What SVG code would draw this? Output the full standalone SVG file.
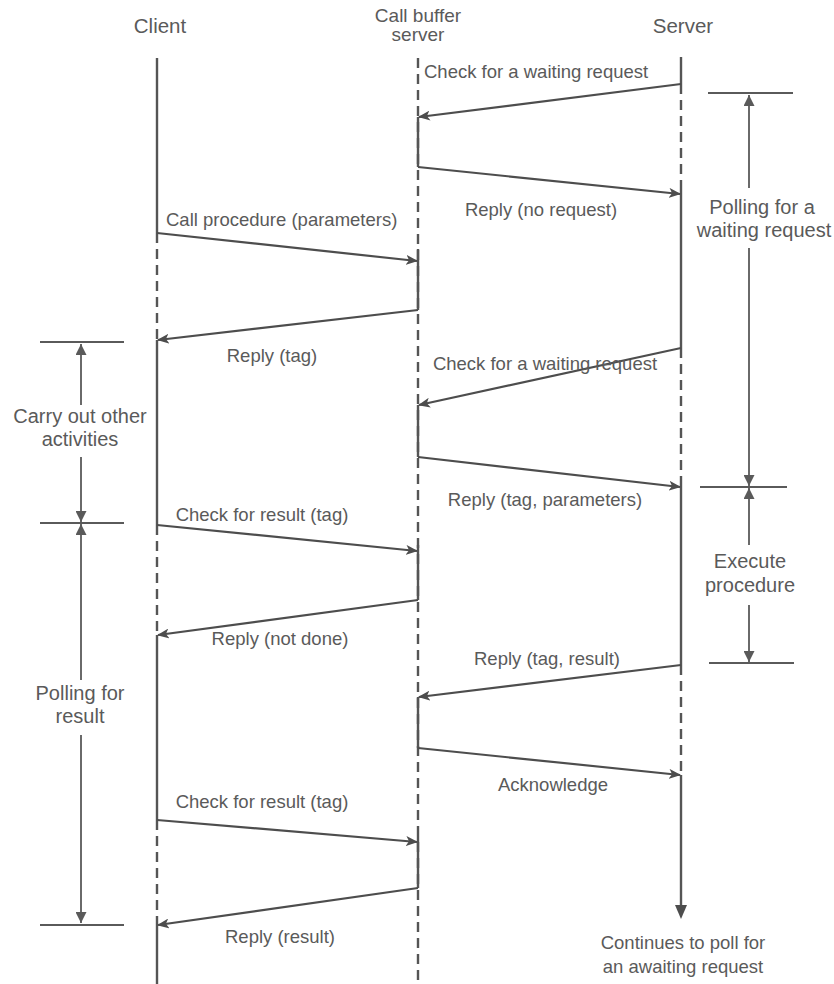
<svg xmlns="http://www.w3.org/2000/svg" width="834" height="984" viewBox="0 0 834 984">
  <style>
    .lbl { font-family: "Liberation Sans", Arial, sans-serif; font-size: 18.5px; fill: #5a5a5a; }
    .hdr { font-family: "Liberation Sans", Arial, sans-serif; font-size: 20.5px; fill: #5a5a5a; }
    .hdr2 { font-family: "Liberation Sans", Arial, sans-serif; font-size: 19px; fill: #5a5a5a; }
    .brk { font-family: "Liberation Sans", Arial, sans-serif; font-size: 20px; fill: #5a5a5a; }
    .solid { stroke: #555; stroke-width: 2.4; fill: none; }
    .dash { stroke: #555; stroke-width: 2.4; fill: none; stroke-dasharray: 10 6; }
    .msg { stroke: #4d4d4d; stroke-width: 2.2; fill: none; marker-end: url(#head); }
    .dim { stroke: #5a5a5a; stroke-width: 1.8; fill: none; }
    .tick { stroke: #5a5a5a; stroke-width: 2; }
  </style>
  <defs>
    <marker id="head" viewBox="0 0 12 10" refX="11" refY="5" markerWidth="12" markerHeight="10" markerUnits="userSpaceOnUse" orient="auto">
      <path d="M0,0 L12,5 L0,10 L3,5 Z" fill="#4d4d4d"/>
    </marker>
    <marker id="dimhead" viewBox="0 0 10 10" refX="10" refY="5" markerWidth="11" markerHeight="11" markerUnits="userSpaceOnUse" orient="auto">
      <path d="M0,0 L10,5 L0,10 Z" fill="#5a5a5a"/>
    </marker>
  </defs>

  <!-- lifelines: dashed while idle, solid while busy -->
  <g id="client">
    <text class="hdr" x="160" y="33" text-anchor="middle">Client</text>
    <line class="solid" x1="157" y1="58" x2="157" y2="233"/>
    <line class="dash" x1="157" y1="233" x2="157" y2="340"/>
    <line class="solid" x1="157" y1="340" x2="157" y2="525"/>
    <line class="dash" x1="157" y1="525" x2="157" y2="635"/>
    <line class="solid" x1="157" y1="635" x2="157" y2="820"/>
    <line class="dash" x1="157" y1="820" x2="157" y2="925"/>
    <line class="solid" x1="157" y1="925" x2="157" y2="984"/>
  </g>

  <g id="buffer">
    <text class="hdr2" x="418" y="22" text-anchor="middle">Call buffer</text>
    <text class="hdr2" x="418" y="41" text-anchor="middle">server</text>
    <line class="dash" x1="418" y1="58" x2="418" y2="984"/>
    <line class="solid" x1="418" y1="117" x2="418" y2="167"/>
    <line class="solid" x1="418" y1="249" x2="418" y2="310"/>
    <line class="solid" x1="418" y1="405" x2="418" y2="457"/>
    <line class="solid" x1="418" y1="545" x2="418" y2="600"/>
    <line class="solid" x1="418" y1="697" x2="418" y2="748"/>
    <line class="solid" x1="418" y1="836" x2="418" y2="888"/>
  </g>

  <g id="server">
    <text class="hdr" x="683" y="33" text-anchor="middle">Server</text>
    <line class="solid" x1="681" y1="57" x2="681" y2="84"/>
    <line class="dash" x1="681" y1="84" x2="681" y2="185"/>
    <line class="solid" x1="681" y1="185" x2="681" y2="348"/>
    <line class="dash" x1="681" y1="348" x2="681" y2="483"/>
    <line class="solid" x1="681" y1="483" x2="681" y2="665"/>
    <line class="dash" x1="681" y1="665" x2="681" y2="775"/>
    <line class="solid" x1="681" y1="775" x2="681" y2="905"/>
    <path d="M675,905 L687,905 L681,919 Z" fill="#4d4d4d"/>
    <text class="lbl" x="683" y="949" text-anchor="middle">Continues to poll for</text>
    <text class="lbl" x="683" y="973" text-anchor="middle">an awaiting request</text>
  </g>

  <!-- messages -->
  <g id="connectors">
    <line class="msg" x1="681" y1="84" x2="419" y2="117"/>
    <line class="msg" x1="418" y1="167" x2="680" y2="194"/>
    <line class="msg" x1="157" y1="233" x2="417" y2="261"/>
    <line class="msg" x1="418" y1="310" x2="158" y2="340"/>
    <line class="msg" x1="681" y1="348" x2="419" y2="405"/>
    <line class="msg" x1="418" y1="457" x2="680" y2="487"/>
    <line class="msg" x1="157" y1="525" x2="417" y2="551"/>
    <line class="msg" x1="418" y1="600" x2="158" y2="635"/>
    <line class="msg" x1="681" y1="665" x2="419" y2="697"/>
    <line class="msg" x1="418" y1="748" x2="680" y2="775"/>
    <line class="msg" x1="157" y1="820" x2="417" y2="842"/>
    <line class="msg" x1="418" y1="888" x2="158" y2="925"/>
  </g>

  <g id="labels">
    <text class="lbl" x="424" y="78">Check for a waiting request</text>
    <text class="lbl" x="541" y="216" text-anchor="middle">Reply (no request)</text>
    <text class="lbl" x="166" y="226">Call procedure (parameters)</text>
    <text class="lbl" x="272" y="362" text-anchor="middle">Reply (tag)</text>
    <text class="lbl" x="545" y="370" text-anchor="middle">Check for a waiting request</text>
    <text class="lbl" x="545" y="506" text-anchor="middle">Reply (tag, parameters)</text>
    <text class="lbl" x="262" y="521" text-anchor="middle">Check for result (tag)</text>
    <text class="lbl" x="280" y="645" text-anchor="middle">Reply (not done)</text>
    <text class="lbl" x="547" y="665" text-anchor="middle">Reply (tag, result)</text>
    <text class="lbl" x="553" y="791" text-anchor="middle">Acknowledge</text>
    <text class="lbl" x="262" y="808" text-anchor="middle">Check for result (tag)</text>
    <text class="lbl" x="280" y="943" text-anchor="middle">Reply (result)</text>
  </g>

  <!-- interval brackets, right side -->
  <g id="polling-request">
    <line class="tick" x1="708" y1="93" x2="793" y2="93"/>
    <line class="tick" x1="700" y1="487" x2="787" y2="487"/>
    <line class="dim" x1="749" y1="188" x2="749" y2="95" marker-end="url(#dimhead)"/>
    <line class="dim" x1="749" y1="248" x2="749" y2="486" marker-end="url(#dimhead)"/>
    <text class="brk" x="762" y="214" text-anchor="middle">Polling for a</text>
    <text class="brk" x="764" y="237" text-anchor="middle">waiting request</text>
  </g>

  <g id="execute">
    <line class="tick" x1="709" y1="663" x2="794" y2="663"/>
    <line class="dim" x1="749" y1="545" x2="749" y2="488" marker-end="url(#dimhead)"/>
    <line class="dim" x1="749" y1="605" x2="749" y2="662" marker-end="url(#dimhead)"/>
    <text class="brk" x="750" y="568" text-anchor="middle">Execute</text>
    <text class="brk" x="750" y="592" text-anchor="middle">procedure</text>
  </g>

  <!-- interval brackets, left side -->
  <g id="other-activities">
    <line class="tick" x1="40" y1="342" x2="124" y2="342"/>
    <line class="tick" x1="40" y1="523" x2="124" y2="523"/>
    <line class="dim" x1="81" y1="405" x2="81" y2="344" marker-end="url(#dimhead)"/>
    <line class="dim" x1="81" y1="457" x2="81" y2="522" marker-end="url(#dimhead)"/>
    <text class="brk" x="80" y="423" text-anchor="middle">Carry out other</text>
    <text class="brk" x="80" y="446" text-anchor="middle">activities</text>
  </g>

  <g id="polling-result">
    <line class="tick" x1="40" y1="925" x2="124" y2="925"/>
    <line class="dim" x1="81" y1="680" x2="81" y2="524" marker-end="url(#dimhead)"/>
    <line class="dim" x1="81" y1="735" x2="81" y2="923" marker-end="url(#dimhead)"/>
    <text class="brk" x="80" y="700" text-anchor="middle">Polling for</text>
    <text class="brk" x="80" y="723" text-anchor="middle">result</text>
  </g>
</svg>
